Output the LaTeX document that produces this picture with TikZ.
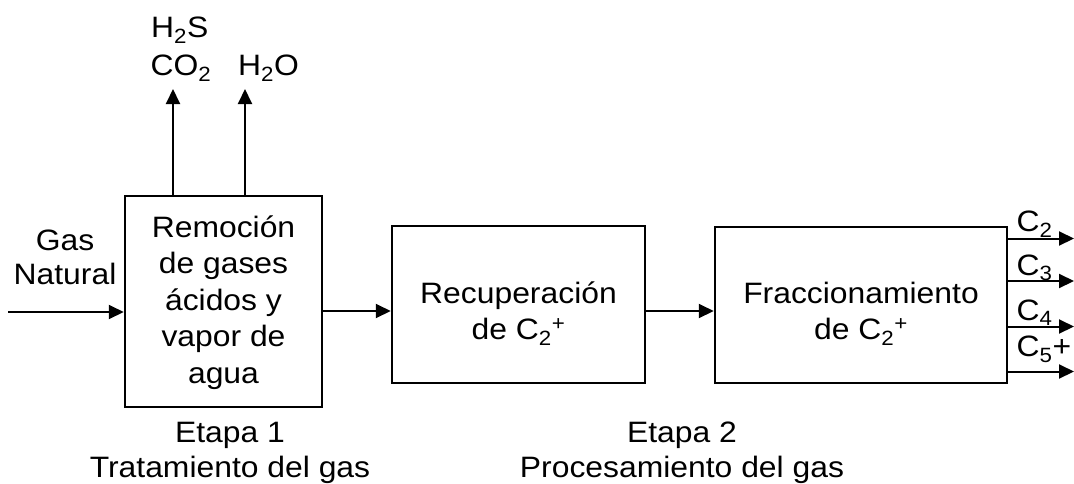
\documentclass[tikz,border=0pt]{standalone}
\usepackage{fontspec}
\setmainfont[FakeStretch=1.08]{Liberation Sans}
\usetikzlibrary{arrows.meta}
\newcommand{\mlines}[1]{\begin{tabular}[t]{@{}c@{}}#1\end{tabular}}
\begin{document}
\begin{tikzpicture}[x=1pt,y=-1pt,
  every node/.style={font=\fontsize{29.5}{36.5}\selectfont, inner sep=0pt},
  box/.style={draw, line width=2.5pt},
  lbl/.style={anchor=base west},
  clbl/.style={anchor=base},
  arr/.style={line width=2pt, -{Triangle[length=15pt,width=14pt]}}]
\useasboundingbox (0,0) rectangle (1074,483);
% boxes
\node[box, minimum width=197pt, minimum height=211pt, text height=20pt, text depth=149pt] (b1) at (223.5,301.5)
  {\mlines{Remoción\\de gases\\ácidos y\\vapor de\\agua}};
\node[box, minimum width=253pt, minimum height=157pt, text height=20pt, text depth=23pt] (b2) at (518.5,304.5)
  {\mlines{Recuperación\\de C\textsubscript{2}\textsuperscript{+}}};
\node[box, minimum width=292pt, minimum height=156pt, text height=20pt, text depth=24pt] (b3) at (861,305)
  {\mlines{Fraccionamiento\\de C\textsubscript{2}\textsuperscript{+}}};
% coordinates
\coordinate (in) at (8,312);
\coordinate (main) at (0,311);
\coordinate (t1) at (173,89);
\coordinate (t2) at (245,89);
\coordinate (o1) at (1074,238.5);
\coordinate (o2) at (1074,281);
\coordinate (o3) at (1074,326.5);
\coordinate (o4) at (1074,371.5);
% connectors
\draw[arr] (in) -- (b1.west |- in);
\draw[arr] (b1.east |- main) -- (b2.west |- main);
\draw[arr] (b2.east |- main) -- (b3.west |- main);
\draw[arr] (b1.north -| t1) -- (t1);
\draw[arr] (b1.north -| t2) -- (t2);
\draw[arr] (b3.east |- o1) -- (o1);
\draw[arr] (b3.east |- o2) -- (o2);
\draw[arr] (b3.east |- o3) -- (o3);
\draw[arr] (b3.east |- o4) -- (o4);
% labels
\node[clbl, font=\fontsize{29.5}{34}\selectfont] (gas) at (65,250.5) {\mlines{Gas\\Natural}};
\node[lbl] (h2s) at (151,37.5) {H\textsubscript{2}S};
\node[lbl] (co2) at (150.5,75.5) {CO\textsubscript{2}};
\node[lbl] (h2o) at (238,75.5) {H\textsubscript{2}O};
\node[lbl] (c2) at (1016.5,231.5) {C\textsubscript{2}};
\node[lbl] (c3) at (1016.5,275) {C\textsubscript{3}};
\node[lbl] (c4) at (1016.5,320) {C\textsubscript{4}};
\node[lbl] (c5) at (1016.5,356.5) {C\textsubscript{5}+};
\node[clbl, font=\fontsize{29.5}{35}\selectfont] (e1) at (230,442) {\mlines{Etapa 1\\Tratamiento del gas}};
\node[clbl, font=\fontsize{29.5}{35}\selectfont] (e2) at (682,442) {\mlines{Etapa 2\\Procesamiento del gas}};
\end{tikzpicture}
\end{document}
